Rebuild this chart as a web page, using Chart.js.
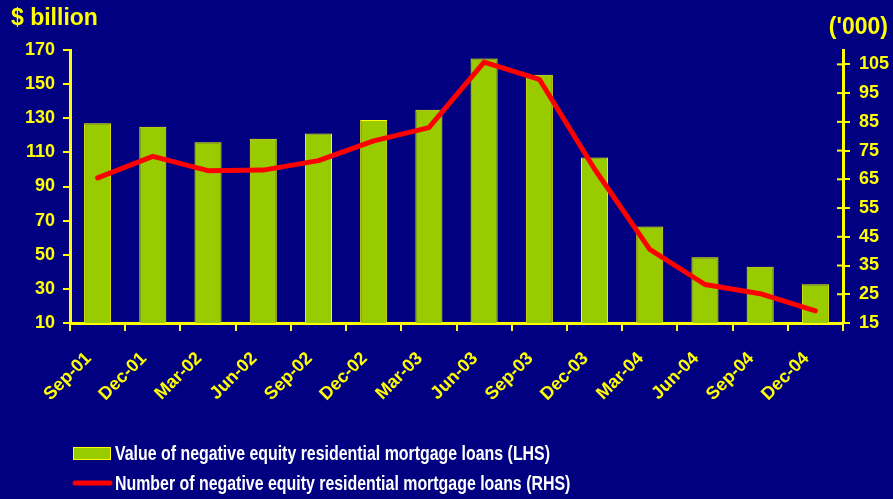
<!DOCTYPE html>
<html>
<head>
<meta charset="utf-8">
<script src="https://cdn.jsdelivr.net/npm/chart.js@4"></script>
<style>
	html, body { margin: 0; padding: 0; background: #000080; overflow: hidden; }
	#wrap { position: relative; width: 893px; height: 499px; }
</style>
</head>
<body>
<div id="wrap"><canvas id="negEquityChart"></canvas></div>
<script>
// Chart data
const quarters = [ 'Sep-01', 'Dec-01', 'Mar-02', 'Jun-02', 'Sep-02', 'Dec-02', 'Mar-03', 'Jun-03', 'Sep-03', 'Dec-03', 'Mar-04', 'Jun-04', 'Sep-04', 'Dec-04' ];
const loanValue = [ 127, 125, 116, 118, 121, 129, 135, 165, 155.5, 107, 66.5, 48.5, 43, 32.7 ];
const loanCount = [ 65.5, 73, 68, 68.2, 71.5, 78.4, 83, 105.8, 99.8, 68.6, 40.6, 28.4, 25.2, 19.2 ];
const leftTicks = [ 10, 30, 50, 70, 90, 110, 130, 150, 170 ];
const rightTicks = [ 15, 25, 35, 45, 55, 65, 75, 85, 95, 105 ];
const valueLabel = 'Value of negative equity residential mortgage loans (LHS)';
const countLabel = 'Number of negative equity residential mortgage loans (RHS)';

const YELLOW = '#FFFF00';
const GREEN = '#99CC00';
const RED = '#FF0000';
const FONT = '"Liberation Sans", Arial, sans-serif';

Chart.defaults.font.family = FONT;
Chart.defaults.font.weight = 'bold';
Chart.defaults.color = YELLOW;

// Axis unit labels, right axis ticks that cross the line, and the legend
const extras = {
	id: 'extras',
	afterDraw( chart ) {
		const { ctx } = chart;
		const right = chart.scales.y1;
		ctx.save();
		ctx.fillStyle = YELLOW;
		ctx.font = 'bold 23px ' + FONT;
		ctx.textBaseline = 'middle';
		ctx.textAlign = 'left';
		ctx.fillText( '$ billion', 11, 19 );
		ctx.textAlign = 'right';
		ctx.fillText( "('000)", 888, 28 );

		ctx.strokeStyle = YELLOW;
		ctx.lineWidth = 2;
		right.ticks.forEach( ( t ) => {
			const y = right.getPixelForValue( t.value );
			ctx.beginPath();
			ctx.moveTo( right.left - 6, y );
			ctx.lineTo( right.left, y );
			ctx.stroke();
		} );

		// Legend (the original uses a condensed face, so squeeze the text)
		ctx.fillStyle = GREEN;
		ctx.strokeStyle = YELLOW;
		ctx.lineWidth = 1;
		ctx.fillRect( 73.5, 447.5, 37, 12 );
		ctx.strokeRect( 73.5, 447.5, 37, 12 );

		ctx.strokeStyle = RED;
		ctx.lineWidth = 5;
		ctx.lineCap = 'round';
		ctx.beginPath();
		ctx.moveTo( 75, 483 );
		ctx.lineTo( 110, 483 );
		ctx.stroke();

		ctx.font = 'bold 20px ' + FONT;
		ctx.fillStyle = '#FFFFFF';
		ctx.textAlign = 'left';
		const squeeze = 435 / ctx.measureText( valueLabel ).width;
		[ [ valueLabel, 454 ], [ countLabel, 484 ] ].forEach( ( [ text, y ] ) => {
			ctx.save();
			ctx.translate( 115, y );
			ctx.scale( squeeze, 1 );
			ctx.fillText( text, 0, 0 );
			ctx.restore();
		} );
		ctx.restore();
	},
};

function fixedTicks( list ) {
	return ( scale ) => {
		scale.ticks = list.map( ( v ) => ( { value: v } ) );
	};
}

new Chart( document.getElementById( 'negEquityChart' ), {
	data: {
		labels: quarters,
		datasets: [
			{
				type: 'line',
				label: countLabel,
				data: loanCount,
				yAxisID: 'y1',
				borderColor: RED,
				backgroundColor: RED,
				borderWidth: 5,
				borderCapStyle: 'round',
				borderJoinStyle: 'round',
				pointRadius: 0,
				tension: 0,
			},
			{
				type: 'bar',
				label: valueLabel,
				data: loanValue,
				yAxisID: 'y',
				backgroundColor: GREEN,
				borderColor: YELLOW,
				borderWidth: 1,
				barPercentage: 0.49,
				categoryPercentage: 1,
			},
		],
	},
	options: {
		responsive: true,
		maintainAspectRatio: false,
		animation: false,
		layout: {
			padding: { top: 50, left: 0, right: 0, bottom: 0 },
		},
		plugins: {
			tooltip: { enabled: false },
			legend: { display: false },
		},
		scales: {
			x: {
				offset: true,
				grid: {
					offset: true,
					drawOnChartArea: false,
					color: YELLOW,
					lineWidth: 2,
					tickLength: 8,
				},
				border: { color: YELLOW, width: 3 },
				ticks: {
					autoSkip: false,
					minRotation: 45,
					maxRotation: 45,
					padding: 17,
					labelOffset: -9,
					font: { size: 18 },
				},
				afterFit( scale ) {
					scale.height = 176;
				},
			},
			y: {
				position: 'left',
				min: 10,
				max: 170,
				afterBuildTicks: fixedTicks( leftTicks ),
				grid: {
					drawOnChartArea: false,
					color: YELLOW,
					lineWidth: 2,
					tickLength: 7,
				},
				border: { color: YELLOW, width: 3 },
				ticks: { padding: 8, font: { size: 18 } },
				afterFit( scale ) {
					scale.width = 70;
				},
			},
			y1: {
				position: 'right',
				min: 15,
				max: 110,
				afterBuildTicks: fixedTicks( rightTicks ),
				grid: {
					drawOnChartArea: false,
					color: YELLOW,
					lineWidth: 2,
					tickLength: 7,
				},
				border: { color: YELLOW, width: 3 },
				ticks: { padding: 9, font: { size: 18 } },
				afterFit( scale ) {
					scale.width = 50;
				},
			},
		},
	},
	plugins: [ extras ],
} );
</script>
</body>
</html>
